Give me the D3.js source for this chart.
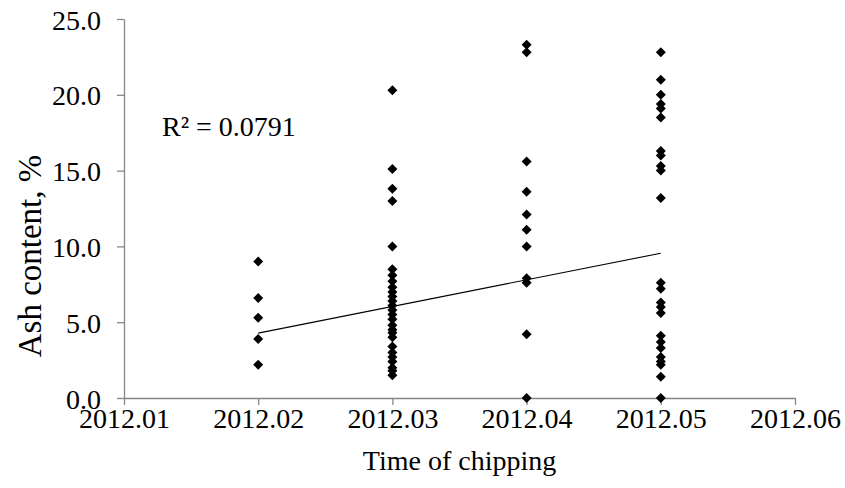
<!DOCTYPE html>
<html>
<head>
<meta charset="utf-8">
<script src="https://cdn.jsdelivr.net/npm/d3@7"></script>
<style>
  html, body { margin: 0; padding: 0; background: #fff; }
  svg { display: block; }
  text { font-family: "Liberation Serif", "Times New Roman", serif; fill: #000; }
</style>
</head>
<body>
<svg id="chart" width="845" height="488"></svg>
<script>
// Ash content (%) of chip samples, grouped by month of chipping
const xTicks = [2012.01, 2012.02, 2012.03, 2012.04, 2012.05, 2012.06];
const yTicks = [0, 5, 10, 15, 20, 25];

const ashFeb = [9.0, 6.6, 5.3, 3.9, 2.2];
const ashMar = [20.3, 15.1, 13.8, 13.0, 10.0,
                8.5, 8.1, 7.7, 7.3, 7.0, 6.7, 6.4, 6.1, 5.8, 5.5, 5.2,
                4.8, 4.5, 4.3, 4.0,
                3.4, 3.0, 2.7, 2.4, 2.0, 1.8, 1.5];
const ashApr = [23.3, 22.8, 15.6, 13.6, 12.1, 11.1, 10.0, 7.9, 7.6, 4.2, 0.0];
const ashMay = [22.8, 21.0, 20.0, 19.4, 19.1, 18.5, 16.3, 16.0, 15.3, 15.0, 13.2,
                7.6, 7.2, 6.3, 6.0, 5.6, 4.1, 3.7, 3.3, 2.7, 2.4, 2.2, 1.4, 0.0];

const months = [2012.02, 2012.03, 2012.04, 2012.05];
const groups = [ashFeb, ashMar, ashApr, ashMay];

// Linear trend line (value at first and last month) and its R²
const trendX = [2012.02, 2012.05];
const trendY = [4.28, 9.55];
const rSquared = "0.0791";

const points = [];
groups.forEach((g, i) => g.forEach(v => points.push({ x: months[i], y: v })));

const svg = d3.select("#chart");
const margin = { left: 124, right: 50, top: 19, bottom: 90 };
const W = 845, H = 488;

const x = d3.scaleLinear().domain([2012.01, 2012.06]).range([margin.left, W - margin.right]);
const y = d3.scaleLinear().domain([0, 25]).range([H - margin.bottom, margin.top]);

const axisColor = "#878787";
const fontSize = 28;
const serif = '"Liberation Serif", "Times New Roman", serif';

// y axis
const yAxis = svg.append("g")
  .attr("transform", `translate(${margin.left},0)`)
  .call(d3.axisLeft(y).tickValues(yTicks).tickFormat(d3.format(".1f")).tickSize(7).tickSizeOuter(0).tickPadding(16));
// x axis
const xAxis = svg.append("g")
  .attr("transform", `translate(0,${y(0)})`)
  .call(d3.axisBottom(x).tickValues(xTicks).tickFormat(d3.format(".2f")).tickSize(7).tickSizeOuter(0).tickPadding(3));

[yAxis, xAxis].forEach(a => {
  a.attr("font-family", serif).attr("font-size", fontSize);
  a.selectAll("path.domain").attr("stroke", axisColor).attr("stroke-width", 1.3);
  a.selectAll(".tick line").attr("stroke", axisColor).attr("stroke-width", 1.3);
  a.selectAll("text").attr("fill", "#000");
});
yAxis.selectAll("text").attr("dy", "0.36em");

// axis titles
svg.append("text")
  .attr("x", (x(2012.01) + x(2012.06)) / 2)
  .attr("y", 470)
  .attr("text-anchor", "middle")
  .attr("font-size", fontSize)
  .text("Time of chipping");

svg.append("text")
  .attr("transform", `translate(41,256) rotate(-90)`)
  .attr("text-anchor", "middle")
  .attr("font-size", 33)
  .text("Ash content, %");

// trend line
svg.append("line")
  .attr("x1", x(trendX[0])).attr("y1", y(trendY[0]))
  .attr("x2", x(trendX[1])).attr("y2", y(trendY[1]))
  .attr("stroke", "#000").attr("stroke-width", 1.1);

// diamond markers
const diamond = d3.symbol().type(d3.symbolSquare).size(50);
svg.append("g").selectAll("path")
  .data(points)
  .join("path")
  .attr("d", diamond)
  .attr("transform", d => `translate(${x(d.x)},${y(d.y)}) rotate(45)`)
  .attr("fill", "#000");

// R² annotation
svg.append("text")
  .attr("x", 162)
  .attr("y", 136)
  .attr("font-size", fontSize)
  .text("R² = " + rSquared);
</script>
</body>
</html>
